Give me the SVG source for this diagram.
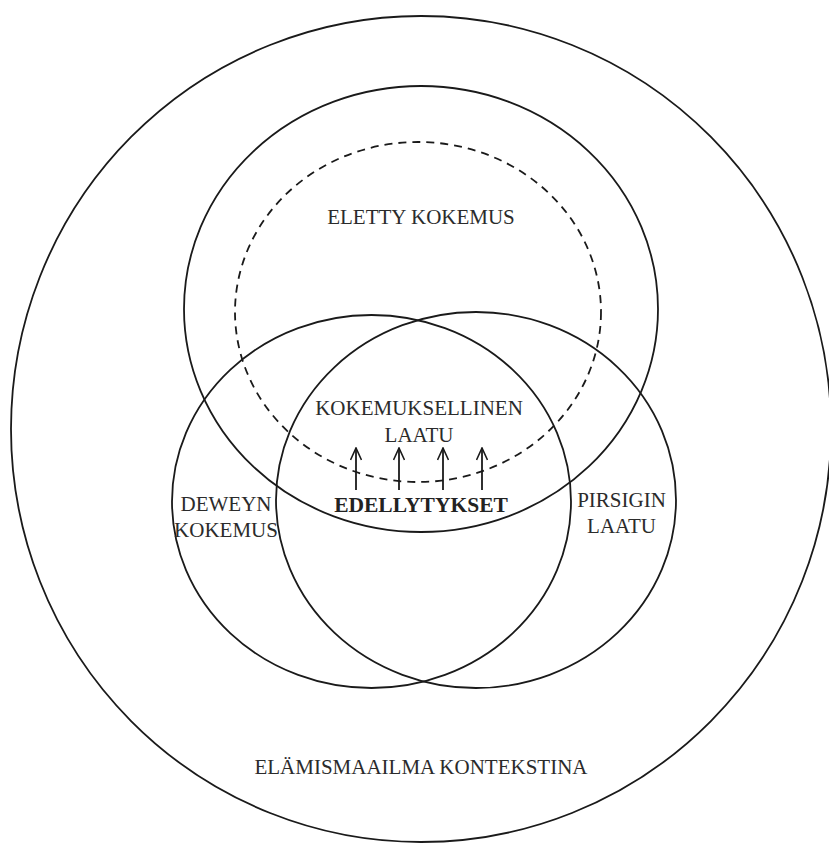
<svg xmlns="http://www.w3.org/2000/svg" width="829" height="843" viewBox="0 0 829 843">
<style>
.c{fill:none;stroke:#1a1a1a;stroke-width:1.8}
.d{fill:none;stroke:#1a1a1a;stroke-width:1.8;stroke-dasharray:8 6}
.a{stroke:#1a1a1a;stroke-width:1.8;fill:none}
</style>
<defs>
<marker id="ah" viewBox="0 0 14 12" refX="13" refY="6" markerWidth="14" markerHeight="12" markerUnits="userSpaceOnUse" orient="auto">
<path d="M1 0.5 L13 6 L1 11.5" fill="none" stroke="#1a1a1a" stroke-width="1.6"/>
</marker>
</defs>
<rect width="829" height="843" fill="#fff"/>
<g font-family="Liberation Serif, Times New Roman, DejaVu Serif, serif" font-size="21" fill="#2b2b2b" text-anchor="middle">
<g id="outer">
<ellipse class="c" cx="421" cy="429" rx="410" ry="413"/>
<text x="421" y="774">ELÄMISMAAILMA KONTEKSTINA</text>
</g>
<g id="eletty">
<ellipse class="c" cx="421" cy="309" rx="237" ry="223"/>
<text x="421" y="224">ELETTY KOKEMUS</text>
</g>
<g id="kokemuksellinen">
<ellipse class="d" cx="418" cy="312" rx="183" ry="170"/>
<text x="419" y="415">KOKEMUKSELLINEN</text>
<text x="419" y="442">LAATU</text>
</g>
<g id="deweyn">
<ellipse class="c" cx="371.5" cy="501.5" rx="199.5" ry="186.5"/>
<text x="226" y="511">DEWEYN</text>
<text x="226" y="537">KOKEMUS</text>
</g>
<g id="pirsigin">
<ellipse class="c" cx="476" cy="500" rx="200" ry="188"/>
<text x="621.5" y="507">PIRSIGIN</text>
<text x="621.5" y="533">LAATU</text>
</g>
<g id="edellytykset">
<text x="421" y="512" font-weight="bold" font-size="21.5" fill="#222">EDELLYTYKSET</text>
</g>
</g>
<g id="connectors">
<line class="a" x1="356" y1="490" x2="356" y2="448" marker-end="url(#ah)"/>
<line class="a" x1="399" y1="490" x2="399" y2="448" marker-end="url(#ah)"/>
<line class="a" x1="443" y1="490" x2="443" y2="448" marker-end="url(#ah)"/>
<line class="a" x1="482" y1="490" x2="482" y2="448" marker-end="url(#ah)"/>
</g>
</svg>
